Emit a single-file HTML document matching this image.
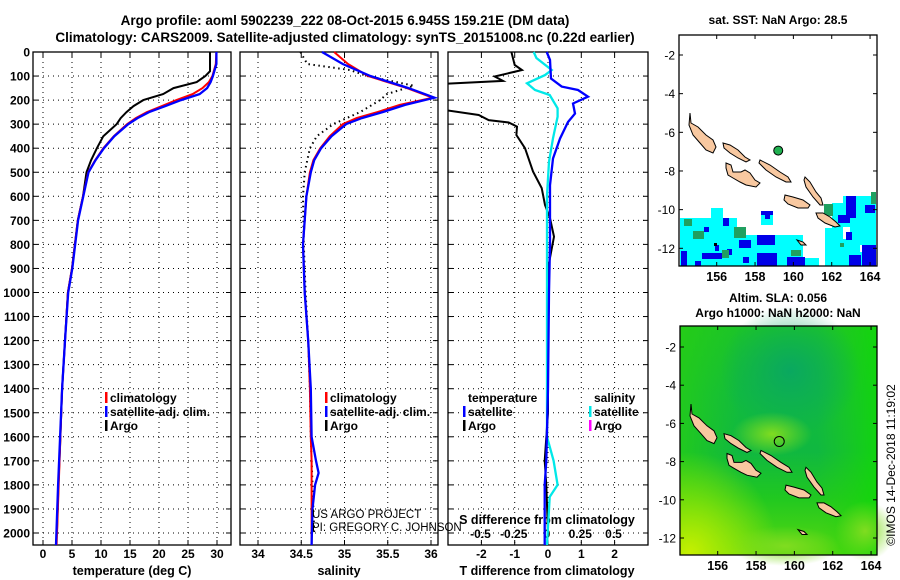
<!DOCTYPE html>
<html><head><meta charset="utf-8">
<style>
html,body{margin:0;padding:0;background:#fff;}
svg{display:block;font-family:"Liberation Sans",sans-serif;font-weight:bold;}
</style></head>
<body>
<svg id="fig" width="900" height="580" viewBox="0 0 900 580" xmlns="http://www.w3.org/2000/svg">
  <defs>
    <clipPath id="c1"><rect x="33" y="40" width="198" height="505"/></clipPath>
    <clipPath id="c2"><rect x="240" y="40" width="198" height="505"/></clipPath>
    <clipPath id="c3"><rect x="448" y="40" width="200" height="505"/></clipPath>
    <linearGradient id="g2" x1="0" y1="0" x2="0" y2="1">
      <stop offset="0" stop-color="#1cc428"/>
      <stop offset="0.3" stop-color="#12bc3c"/>
      <stop offset="0.55" stop-color="#10b840"/>
      <stop offset="0.75" stop-color="#20c820"/>
      <stop offset="1" stop-color="#58d810"/>
    </linearGradient>
    <linearGradient id="g2h" x1="0" y1="0" x2="1" y2="0">
      <stop offset="0" stop-color="#28d010" stop-opacity="0.7"/>
      <stop offset="0.3" stop-color="#28d010" stop-opacity="0"/>
      <stop offset="0.7" stop-color="#28d010" stop-opacity="0"/>
      <stop offset="1" stop-color="#10d808" stop-opacity="0.85"/>
    </linearGradient>
    <radialGradient id="g3" cx="0.05" cy="1" r="0.45">
      <stop offset="0" stop-color="#c8f000"/>
      <stop offset="1" stop-color="#c8f000" stop-opacity="0"/>
    </radialGradient>
    <radialGradient id="g4" cx="0.5" cy="0.5" r="0.5">
      <stop offset="0" stop-color="#80dc20"/>
      <stop offset="1" stop-color="#80dc20" stop-opacity="0"/>
    </radialGradient>
    <radialGradient id="g5" cx="0.5" cy="0.5" r="0.5">
      <stop offset="0" stop-color="#0aa860"/>
      <stop offset="1" stop-color="#0aa860" stop-opacity="0"/>
    </radialGradient>
  </defs>
  <text x="345" y="25" text-anchor="middle" font-size="13.5">Argo profile: aoml 5902239_222 08-Oct-2015 6.945S 159.21E (DM data)</text>
  <text x="345" y="42" text-anchor="middle" font-size="13.5">Climatology: CARS2009. Satellite-adjusted climatology: synTS_20151008.nc (0.22d earlier)</text>
  <g id="plots"></g>
  <text x="312" y="518" font-size="11.5" font-weight="normal">US ARGO PROJECT</text>
  <text x="312" y="531" font-size="11.5" font-weight="normal">PI: GREGORY C. JOHNSON</text>
  <text transform="translate(895,465) rotate(-90)" text-anchor="middle" font-size="12" font-weight="normal">©IMOS 14-Dec-2018 11:19:02</text>
</svg>
<script>
// ---------- data ----------
const depthTicks = [0,100,200,300,400,500,600,700,800,900,1000,1100,1200,1300,1400,1500,1600,1700,1800,1900,2000];
const tTicks = [0,5,10,15,20,25,30];
const sTicks = [34,34.5,35,35.5,36];
const sTickLabels = ["34","34.5","35","35.5","36"];
const tdTicks = [-2,-1,0,1,2];
const sdTicks = [-0.5,-0.25,0,0.25,0.5];
const sdTickLabels = ["-0.5","-0.25","0","0.25","0.5"];

const tClimDepth = [0,50,100,125,150,175,200,225,250,275,300,350,400,450,500,600,700,800,900,1000,1200,1400,1600,1800,2050];
const tClim = [29.9,29.8,29.2,28.6,27.5,25.8,23.0,20.5,17.9,16.0,14.5,12.2,10.4,9.0,7.8,6.9,6.0,5.5,5.0,4.3,3.8,3.3,3.0,2.7,2.35];
const tSat = [29.9,29.9,29.3,28.9,28.3,27.0,23.8,21.1,18.3,16.3,14.7,12.3,10.5,9.05,7.85,6.95,6.05,5.55,5.05,4.35,3.8,3.3,2.95,2.6,2.25];
const tArgoDepth = [0,80,100,125,150,175,200,225,250,275,300,350,400,450,500,600,700,800,900,1000,1200,1400,1600,1800,2000];
const tArgo = [28.8,28.8,28.0,26.5,22.5,20.7,17.3,15.6,14.4,13.4,12.7,10.4,9.3,8.3,7.5,6.9,6.0,5.5,5.0,4.3,3.8,3.3,3.0,2.65,2.4];

const sDepth = [0,50,100,150,190,220,250,275,300,350,400,450,500,600,800,1000,1200,1400,1600,1700,1750,1800,1900,2050];
const sClim = [34.88,35.04,35.27,35.72,36.02,35.64,35.38,35.14,34.98,34.83,34.72,34.64,34.60,34.56,34.52,34.54,34.58,34.60,34.61,34.62,34.62,34.62,34.62,34.62];
const sSat = [34.74,34.98,35.30,35.74,36.04,35.70,35.44,35.20,35.02,34.85,34.73,34.65,34.61,34.56,34.52,34.54,34.58,34.61,34.62,34.67,34.70,34.66,34.63,34.62];
const sArgoDepth = [0,50,75,100,140,175,200,250,300,350,400,500,600,800,1000,1200,1400,1600,1800,2000];
const sArgo = [34.49,34.57,35.06,35.26,35.80,35.49,35.41,35.18,34.87,34.68,34.60,34.54,34.52,34.53,34.55,34.58,34.60,34.61,34.63,34.65];

const tdArgoDepth = [0,54,75,102,120,135,241,262,283,293,310,345,400,497,566,636,691,768,900,1200,1500,1700,1800,2000];
const tdArgo = [-1.1,-1.0,-0.78,-1.6,-1.35,-3.5,-3.1,-2.08,-1.78,-1.18,-0.93,-0.95,-0.69,-0.45,-0.19,-0.09,0.06,0.18,0.0,0.0,0.0,-0.1,-0.05,0.0];
const tdSatDepth = [0,33,110,144,158,186,214,256,291,360,443,554,800,1000,1400,1700,1800,2050];
const tdSat = [-0.04,0.06,0.09,0.41,0.9,1.2,0.75,0.81,0.6,0.36,0.15,0.06,0.06,0.03,0.0,-0.05,-0.1,-0.1];
const sdSatDepth = [0,25,75,96,130,158,179,234,269,359,456,595,800,1200,1600,1700,1800,1850,2050];
const sdSat = [-0.1,-0.08,0.035,-0.015,-0.15,-0.09,0.02,0.08,0.08,0.045,0.015,0.0,0.0,0.0,0.0,0.05,0.08,0.02,0.0];

const latTicks = [-2,-4,-6,-8,-10,-12];
const lonTicks = [156,158,160,162,164];
const argoLon = 159.21, argoLat = -6.945;

// ---------- helpers ----------
const NS = "http://www.w3.org/2000/svg";
const root = document.getElementById('plots');
function mk(tag, attrs, parent){
  const e = document.createElementNS(NS, tag);
  for (const k in attrs) e.setAttribute(k, attrs[k]);
  (parent||root).appendChild(e);
  return e;
}
const yD = d => 52 + d*0.2405;
const xT = t => 43 + t*5.8;
const xS = s => 258 + (s-34)*86.5;
const xTd = v => 548 + v*33.3;
const xSd = v => 547 + v*133;

function line(xs, ds, fx, attrs, clip, name){
  const pts = xs.map((v,i)=> fx(v).toFixed(1)+","+yD(ds[i]).toFixed(1)).join(" ");
  const p = mk('polyline', Object.assign({points:pts, fill:'none', 'clip-path':'url(#'+clip+')'}, attrs));
  
  
}

function panel(x0, w, ticksX, fx, labels, clip, name){
  const g = mk('g', {});
  
  
  depthTicks.forEach(d=>{
    if (d===0) return;
    const gl = mk('line', {x1:x0, x2:x0+w, y1:yD(d), y2:yD(d), stroke:'#000', 'stroke-width':1, 'stroke-dasharray':'1 4'}, g);
    
    
    mk('line',{x1:x0,x2:x0+5,y1:yD(d),y2:yD(d),stroke:'#000'},g);
    mk('line',{x1:x0+w-5,x2:x0+w,y1:yD(d),y2:yD(d),stroke:'#000'},g);
  });
  ticksX.forEach((t,i)=>{
    const x = fx(t);
    const gl = mk('line', {x1:x, x2:x, y1:52, y2:545, stroke:'#000', 'stroke-width':1, 'stroke-dasharray':'1 4'}, g);
    
    
    mk('line',{x1:x,x2:x,y1:545,y2:540,stroke:'#000'},g);
    mk('line',{x1:x,x2:x,y1:52,y2:57,stroke:'#000'},g);
    const tx = mk('text',{x:x, y:558, 'text-anchor':'middle','font-size':12}, g);
    tx.textContent = labels ? labels[i] : String(t);
    
    
  });
  const fr = mk('rect',{x:x0,y:52,width:w,height:493,fill:'none',stroke:'#000','stroke-width':1.3},g);
  
  
}

depthTicks.forEach(d=>{
  const t = mk('text',{x:30,y:yD(d)+4.5,'text-anchor':'end','font-size':12});
  t.textContent = String(d);
  
  
});

panel(33,198,tTicks,xT,null,'c1','temperature-panel');
panel(240,198,sTicks,xS,sTickLabels,'c2','salinity-panel');
panel(448,200,tdTicks,xTd,null,'c3','difference-panel');

sdTicks.forEach((v,i)=>{
  const t = mk('text',{x:xSd(v),y:538,'text-anchor':'middle','font-size':12});
  t.textContent = sdTickLabels[i];
  
  
});
{
  const t = mk('text',{x:547,y:524,'text-anchor':'middle','font-size':12.5});
  t.textContent = 'S difference from climatology';
  
  
}

[[132,'temperature (deg C)','temperature-axis-title'],[339,'salinity','salinity-axis-title'],[547,'T difference from climatology','t-diff-axis-title']].forEach(a=>{
  const t = mk('text',{x:a[0],y:575,'text-anchor':'middle','font-size':12.5});
  t.textContent = a[1];
  
  
});

line(tArgo, tArgoDepth, xT, {stroke:'#000','stroke-width':2}, 'c1', 'temperature-argo-line');
line(tClim, tClimDepth, xT, {stroke:'#f00','stroke-width':2}, 'c1', 'temperature-climatology-line');
line(tSat, tClimDepth, xT, {stroke:'#00f','stroke-width':2.3}, 'c1', 'temperature-satellite-line');

line(sArgo, sArgoDepth, xS, {stroke:'#000','stroke-width':2,'stroke-dasharray':'1.5 3.5'}, 'c2', 'salinity-argo-line');
line(sClim, sDepth, xS, {stroke:'#f00','stroke-width':2}, 'c2', 'salinity-climatology-line');
line(sSat, sDepth, xS, {stroke:'#00f','stroke-width':2.3}, 'c2', 'salinity-satellite-line');

line(tdArgo, tdArgoDepth, xTd, {stroke:'#000','stroke-width':2}, 'c3', 't-diff-argo-line');
line(sdSat, sdSatDepth, xSd, {stroke:'#00e8e8','stroke-width':2.3}, 'c3', 's-diff-satellite-line');
line(tdSat, tdSatDepth, xTd, {stroke:'#00f','stroke-width':2.3}, 'c3', 't-diff-satellite-line');

function legend(x, y, color, label, name){
  const g = mk('g',{});
  
  
  if (color) mk('rect',{x:x-5,y:y-10,width:2.5,height:11,fill:color},g);
  const t = mk('text',{x:x,y:y,'font-size':12},g);
  t.textContent = label;
}
legend(110,402,'#f00','climatology','legend-climatology');
legend(110,416,'#00f','satellite-adj. clim.','legend-satellite');
legend(110,430,'#000','Argo','legend-argo');
legend(330,402,'#f00','climatology','legend-s-climatology');
legend(330,416,'#00f','satellite-adj. clim.','legend-s-satellite');
legend(330,430,'#000','Argo','legend-s-argo');
legend(468,402,null,'temperature','legend-temperature-header');
legend(468,416,'#00f','satellite','legend-t-satellite');
legend(468,430,'#000','Argo','legend-t-argo');
legend(594,402,null,'salinity','legend-salinity-header');
legend(594,416,'#00e8e8','satellite','legend-s-diff-satellite');
legend(594,430,'#f0f','Argo','legend-s-diff-argo');

// ---------- maps ----------
const islands = [
 [[11,78],[12,88],[19,92],[27,100],[34,105],[37,112],[34,118],[27,115],[21,108],[14,100],[10,90]],
 [[44,108],[51,110],[59,115],[66,122],[71,125],[67,127],[59,123],[51,118],[45,113]],
 [[81,125],[91,130],[101,137],[109,142],[112,147],[107,147],[97,142],[87,135],[80,128]],
 [[47,128],[52,130],[54,137],[62,137],[66,135],[71,138],[76,145],[81,148],[77,152],[67,150],[61,147],[54,143],[49,140],[47,133]],
 [[126,142],[131,147],[137,157],[142,163],[144,170],[141,170],[134,162],[127,152],[125,145]],
 [[106,160],[114,162],[124,165],[131,170],[129,173],[119,173],[109,169],[105,165]],
 [[137,178],[144,178],[151,182],[157,187],[161,191],[156,192],[146,188],[139,183]],
 [[118,205],[124,207],[127,210],[122,210]]
];
const cyanCells = [[1,183,33,48],[32,173,12,58],[44,183,14,48],[57,200,22,31],[78,200,46,31],[124,223,16,8],[82,177,12,13],[146,193,25,38],[153,168,15,25],[164,161,33,70]];
const whiteCells = [[164,192,7,12],[181,210,9,7],[124,213,12,10]];
const blueCells = [[82,176,12,4],[86,180,5,4],[44,183,6,8],[2,216,6,15],[23,218,20,6],[16,226,6,5],[60,205,12,8],[36,210,4,6],[78,200,18,10],[78,218,20,13],[108,222,18,9],[48,214,5,6],[64,222,6,6],[25,192,5,5],[167,161,10,22],[159,180,12,8],[186,170,10,8],[167,197,6,8],[183,210,14,21],[170,220,12,11]];
const blackCells = [[35,208,3,3]];
const tealCells = [[5,184,8,7],[14,196,11,8],[55,192,12,11],[43,215,7,8],[112,215,10,6],[145,169,9,12],[192,157,5,12],[161,208,4,4]];

function drawMap(ox, oy, W, H, latOff, latScale, name, isSST){
  const g = mk('g',{});
  
  
  const lx = lon => ox + 37.7 + (lon-156)*19.17;
  const ly = lat => oy + latOff + (-2-lat)*latScale;
  const iy = oy + latOff - 20;
  if (!isSST){
    mk('rect',{x:ox,y:oy,width:W,height:H,fill:'url(#g2)'},g);
    mk('rect',{x:ox,y:oy,width:W,height:H,fill:'url(#g2h)'},g);
    mk('ellipse',{cx:ox+110,cy:oy+45,rx:70,ry:65,fill:'url(#g5)'},g);
    mk('rect',{x:ox,y:oy,width:W,height:H,fill:'url(#g3)'},g);
    mk('ellipse',{cx:ox+92,cy:oy+108,rx:40,ry:22,fill:'url(#g4)'},g);
    mk('ellipse',{cx:ox+185,cy:oy+205,rx:30,ry:30,fill:'url(#g4)'},g);
    mk('ellipse',{cx:ox+105,cy:oy+220,rx:55,ry:20,fill:'url(#g4)'},g);
  } else {
    mk('rect',{x:ox,y:oy,width:W,height:H,fill:'#fff'},g);
    const draw=(arr,c)=>arr.forEach(r=>mk('rect',{x:ox+r[0],y:oy+r[1],width:r[2],height:r[3],fill:c},g));
    draw(cyanCells,'#00ffff'); draw(whiteCells,'#fff'); draw(blueCells,'#0000e8'); draw(tealCells,'#20a060'); draw(blackCells,'#000');
  }
  islands.forEach(pl=>{
    const p = mk('polygon',{points:pl.map(q=>(ox+q[0])+","+(iy+q[1]*latScale/19.33).toFixed(1)).join(" "),fill:'#f8c8a0',stroke:'#000','stroke-width':1},g);
    
    
  });
  const ac = mk('circle',{cx:lx(argoLon),cy:ly(argoLat),r:isSST?4.5:5,fill:isSST?'#20b050':'none',stroke:'#000','stroke-width':1},g);
  
  
  mk('rect',{x:ox,y:oy,width:W,height:H,fill:'none',stroke:'#000','stroke-width':1.3},g);
  latTicks.forEach(l=>{
    const y = ly(l);
    mk('line',{x1:ox,x2:ox+4,y1:y,y2:y,stroke:'#000'},g);
    mk('line',{x1:ox+W-4,x2:ox+W,y1:y,y2:y,stroke:'#000'},g);
    const t = mk('text',{x:ox-4,y:y+4.5,'text-anchor':'end','font-size':12,'font-weight':'normal'},g);
    t.textContent = String(l);
    
    
  });
  lonTicks.forEach(l=>{
    const x = lx(l);
    mk('line',{x1:x,x2:x,y1:oy,y2:oy+4,stroke:'#000'},g);
    mk('line',{x1:x,x2:x,y1:oy+H-4,y2:oy+H,stroke:'#000'},g);
    const t = mk('text',{x:x,y:oy+H+15,'text-anchor':'middle','font-size':12.5},g);
    t.textContent = String(l);
    
    
  });
}
drawMap(679,35,198,231,20,19.33,'sst-map',true);
drawMap(680,326,197,229,21,19.1,'sla-map',false);

[[778,24,'sat. SST: NaN Argo: 28.5','sst-map-title'],[778,302,'Altim. SLA: 0.056','sla-map-title'],[778,317,'Argo h1000: NaN h2000: NaN','sla-map-subtitle']].forEach(a=>{
  const t = mk('text',{x:a[0],y:a[1],'text-anchor':'middle','font-size':12});
  t.textContent = a[2];
  
  
});
</script>
</body></html>
